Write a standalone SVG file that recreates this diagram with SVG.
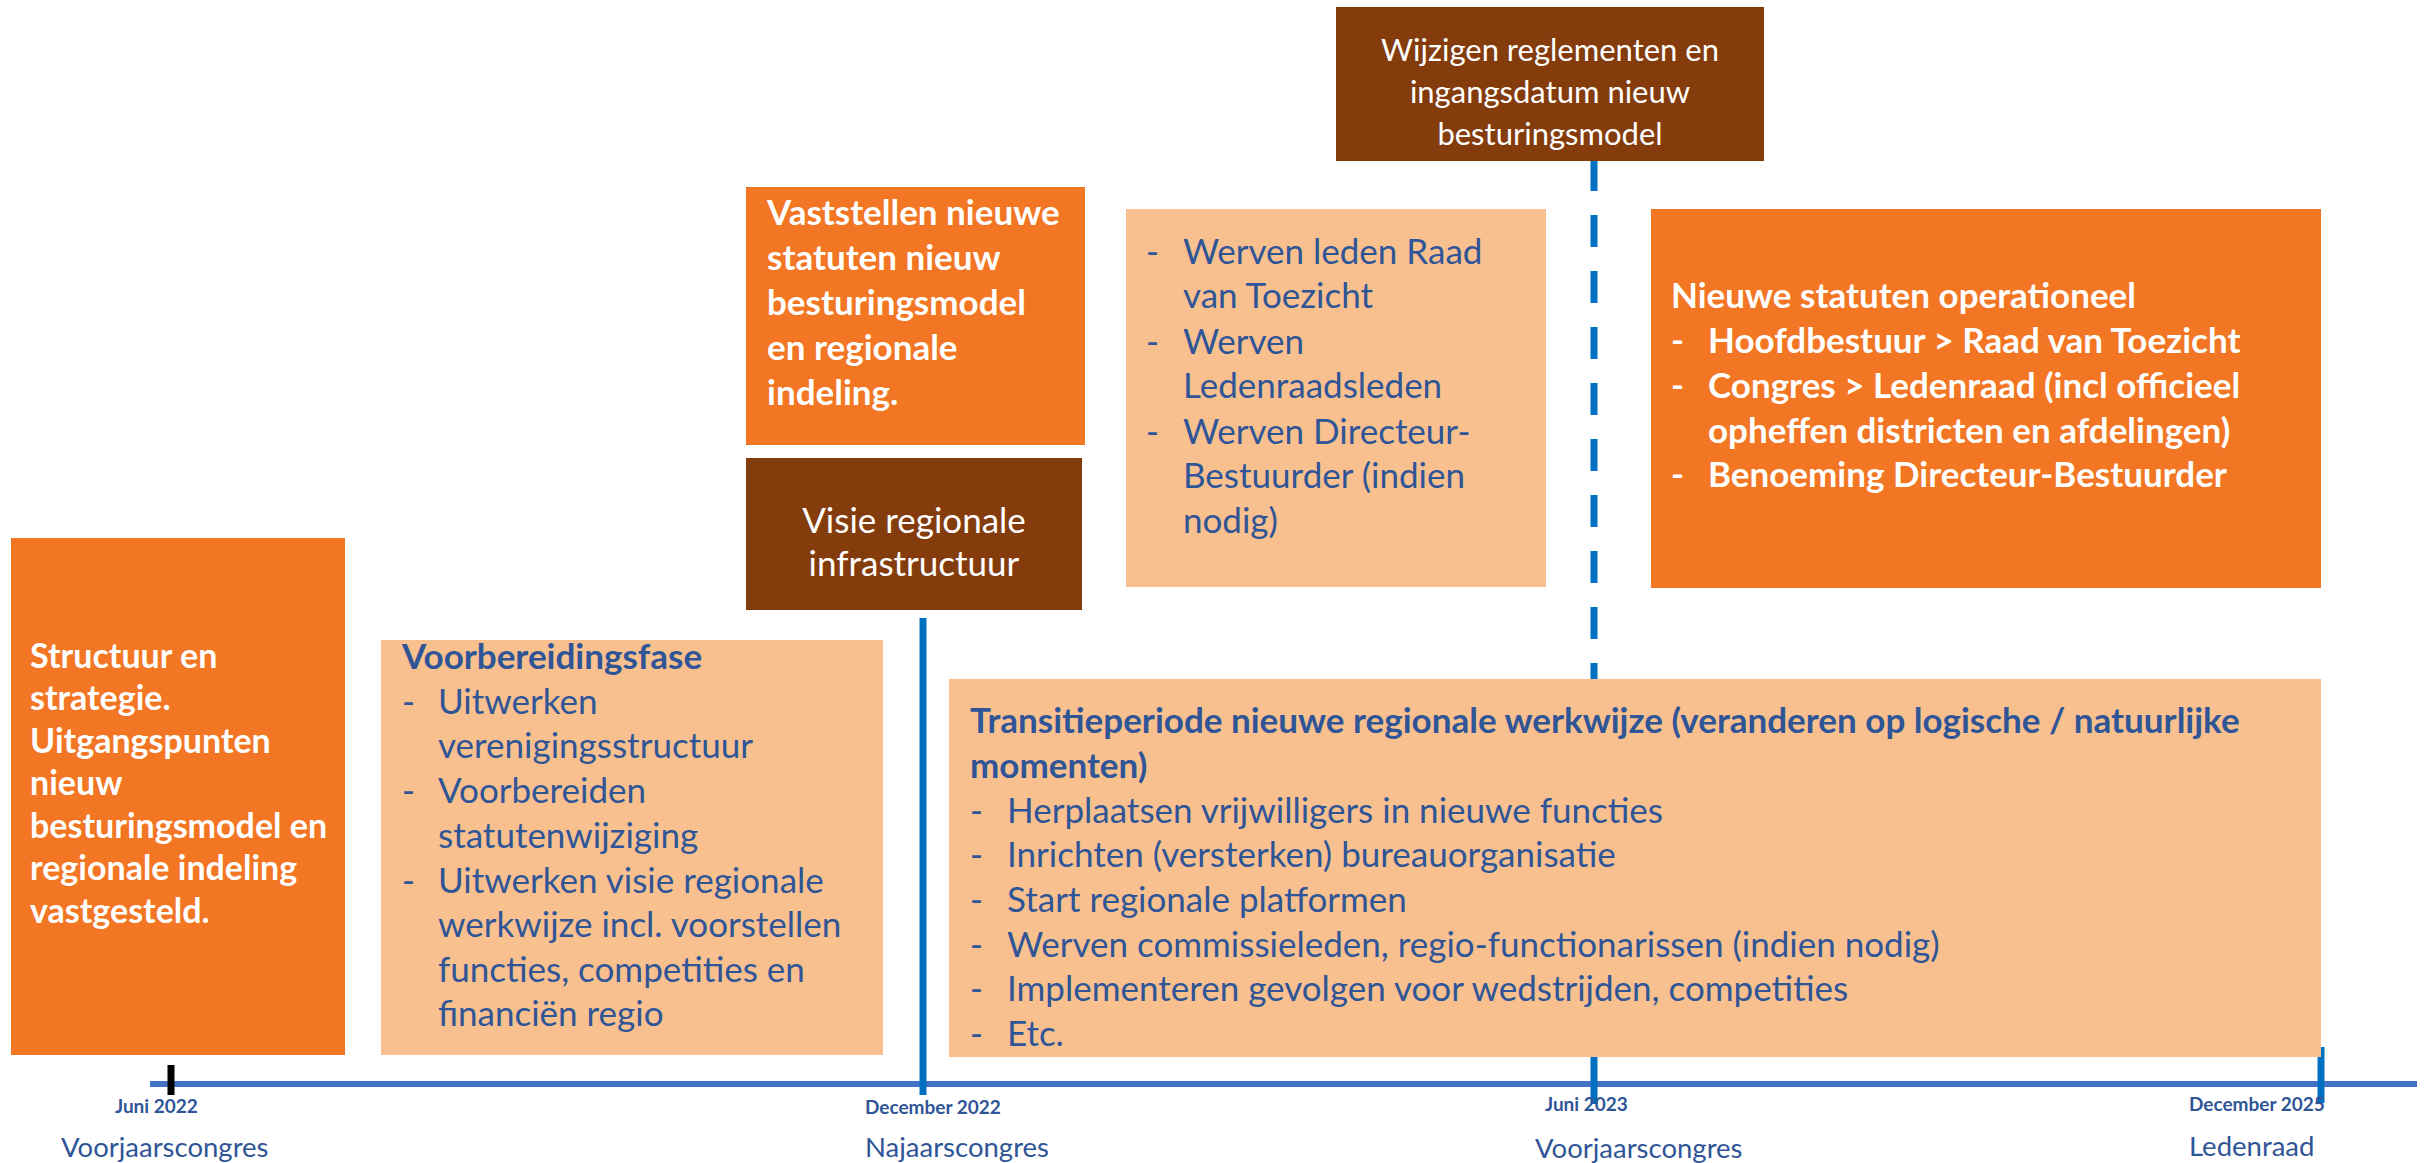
<svg xmlns="http://www.w3.org/2000/svg" width="2433" height="1163" viewBox="0 0 2433 1163">
<style>
.or{fill:#F27623}
.lt{fill:#F8C08F}
.br{fill:#843C0C}
text{font-family:Lato,"Liberation Sans",sans-serif}
.wb{fill:#FFFFFF;font-weight:bold;font-size:35px}
.wb1{fill:#FFFFFF;font-weight:bold;font-size:34px}
.wr{fill:#FFFFFF;font-size:35px}
.wr2{fill:#FFFFFF;font-size:31px}
.bb{fill:#2F5597;font-weight:bold;font-size:35px}
.br2{fill:#2F5597;font-size:35px}
.lab{fill:#2F5597;font-weight:bold;font-size:19px}
.ev{fill:#2F5597;font-size:27.5px}
.vl{stroke:#0070C0;stroke-width:7;fill:none}
</style>
<rect width="2433" height="1163" fill="#FFFFFF"/>
<g id="connectors">
<line x1="150" y1="1084" x2="2417" y2="1084" stroke="#4472C4" stroke-width="6"/>
<line x1="171" y1="1065" x2="171" y2="1095" stroke="#000000" stroke-width="7"/>
<line class="vl" x1="923" y1="618" x2="923" y2="1095"/>
<line class="vl" x1="1594" y1="159" x2="1594" y2="679" stroke-dasharray="32 24"/>
<line class="vl" x1="1594" y1="1057" x2="1594" y2="1104"/>
<line class="vl" x1="2321" y1="1047" x2="2321" y2="1103"/>
</g>
<g id="node-structuur">
<rect class="or" x="11" y="538" width="334" height="517"/>
<text class="wb1" x="30" y="668">Structuur en</text>
<text class="wb1" x="30" y="710">strategie.</text>
<text class="wb1" x="30" y="753">Uitgangspunten</text>
<text class="wb1" x="30" y="795">nieuw</text>
<text class="wb1" x="30" y="838">besturingsmodel en</text>
<text class="wb1" x="30" y="880">regionale indeling</text>
<text class="wb1" x="30" y="923">vastgesteld.</text>
</g>
<g id="node-voorbereiding">
<rect class="lt" x="381" y="640" width="502" height="415"/>
<text class="bb" x="402" y="669">Voorbereidingsfase</text>
<text class="br2" x="402" y="714">-</text>
<text class="br2" x="438" y="714">Uitwerken</text>
<text class="br2" x="438" y="758">verenigingsstructuur</text>
<text class="br2" x="402" y="803">-</text>
<text class="br2" x="438" y="803">Voorbereiden</text>
<text class="br2" x="438" y="848">statutenwijziging</text>
<text class="br2" x="402" y="893">-</text>
<text class="br2" x="438" y="893">Uitwerken visie regionale</text>
<text class="br2" x="438" y="937">werkwijze incl. voorstellen</text>
<text class="br2" x="438" y="982">functies, competities en</text>
<text class="br2" x="438" y="1026">financiën regio</text>
</g>
<g id="node-vaststellen">
<rect class="or" x="746" y="187" width="339" height="258"/>
<text class="wb" x="767" y="225">Vaststellen nieuwe</text>
<text class="wb" x="767" y="270">statuten nieuw</text>
<text class="wb" x="767" y="315">besturingsmodel</text>
<text class="wb" x="767" y="360">en regionale</text>
<text class="wb" x="767" y="405">indeling.</text>
</g>
<g id="node-visie">
<rect class="br" x="746" y="458" width="336" height="152"/>
<text class="wr" x="914" y="533" text-anchor="middle">Visie regionale</text>
<text class="wr" x="914" y="576" text-anchor="middle">infrastructuur</text>
</g>
<g id="node-wijzigen">
<rect class="br" x="1336" y="7" width="428" height="154"/>
<text class="wr2" x="1550" y="61" text-anchor="middle">Wijzigen reglementen en</text>
<text class="wr2" x="1550" y="103" text-anchor="middle">ingangsdatum nieuw</text>
<text class="wr2" x="1550" y="145" text-anchor="middle">besturingsmodel</text>
</g>
<g id="node-werven">
<rect class="lt" x="1126" y="209" width="420" height="378"/>
<text class="br2" x="1146" y="264">-</text>
<text class="br2" x="1183" y="264">Werven leden Raad</text>
<text class="br2" x="1183" y="308">van Toezicht</text>
<text class="br2" x="1146" y="354">-</text>
<text class="br2" x="1183" y="354">Werven</text>
<text class="br2" x="1183" y="398">Ledenraadsleden</text>
<text class="br2" x="1146" y="444">-</text>
<text class="br2" x="1183" y="444">Werven Directeur-</text>
<text class="br2" x="1183" y="488">Bestuurder (indien</text>
<text class="br2" x="1183" y="533">nodig)</text>
</g>
<g id="node-nieuwe-statuten">
<rect class="or" x="1651" y="209" width="670" height="379"/>
<text class="wb" x="1671" y="308">Nieuwe statuten operationeel</text>
<text class="wb" x="1671" y="353">-</text>
<text class="wb" x="1708" y="353">Hoofdbestuur &gt; Raad van Toezicht</text>
<text class="wb" x="1671" y="398">-</text>
<text class="wb" x="1708" y="398">Congres &gt; Ledenraad (incl officieel</text>
<text class="wb" x="1708" y="443">opheffen districten en afdelingen)</text>
<text class="wb" x="1671" y="487">-</text>
<text class="wb" x="1708" y="487">Benoeming Directeur-Bestuurder</text>
</g>
<g id="node-transitie">
<rect class="lt" x="949" y="679" width="1372" height="378"/>
<text class="bb" x="970" y="733">Transitieperiode nieuwe regionale werkwijze (veranderen op logische / natuurlijke</text>
<text class="bb" x="970" y="778">momenten)</text>
<text class="br2" x="970" y="823">-</text>
<text class="br2" x="1007" y="823">Herplaatsen vrijwilligers in nieuwe functies</text>
<text class="br2" x="970" y="867">-</text>
<text class="br2" x="1007" y="867">Inrichten (versterken) bureauorganisatie</text>
<text class="br2" x="970" y="912">-</text>
<text class="br2" x="1007" y="912">Start regionale platformen</text>
<text class="br2" x="970" y="957">-</text>
<text class="br2" x="1007" y="957">Werven commissieleden, regio-functionarissen (indien nodig)</text>
<text class="br2" x="970" y="1001">-</text>
<text class="br2" x="1007" y="1001">Implementeren gevolgen voor wedstrijden, competities</text>
<text class="br2" x="970" y="1046">-</text>
<text class="br2" x="1007" y="1046">Etc.</text>
</g>
<g id="labels">
<text class="lab" x="115" y="1113">Juni 2022</text>
<text class="ev" x="61" y="1157">Voorjaarscongres</text>
<text class="lab" x="865" y="1114">December 2022</text>
<text class="ev" x="865" y="1157">Najaarscongres</text>
<text class="lab" x="1545" y="1111">Juni 2023</text>
<text class="ev" x="1535" y="1158">Voorjaarscongres</text>
<text class="lab" x="2189" y="1111">December 2025</text>
<text class="ev" x="2189" y="1156">Ledenraad</text>
</g>
</svg>
